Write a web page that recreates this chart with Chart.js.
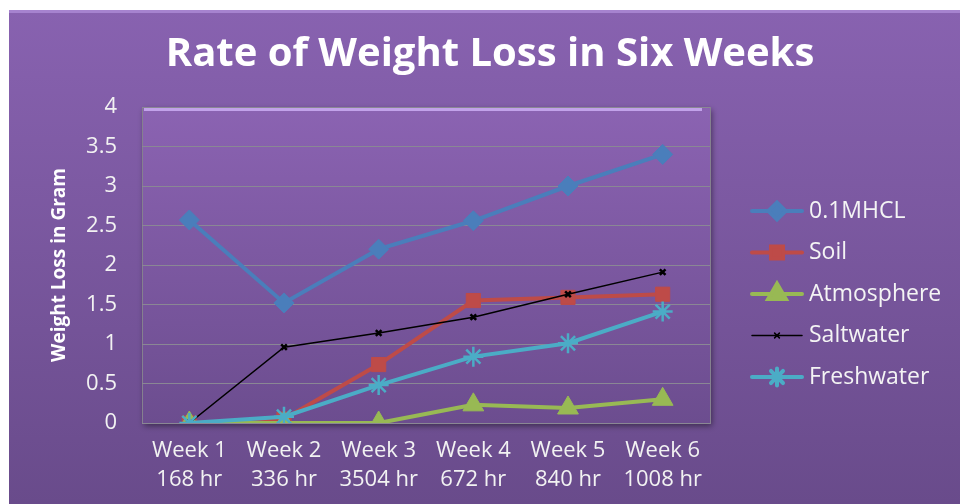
<!DOCTYPE html>
<html>
<head>
<meta charset="utf-8">
<script src="https://cdn.jsdelivr.net/npm/chart.js@4.4.1/dist/chart.umd.min.js"></script>
<style>
  html, body { margin: 0; padding: 0; background: #fff; }
  #wrap { width: 960px; height: 504px; }
</style>
</head>
<body>
<div id="wrap"><canvas id="myChart" width="960" height="504"></canvas></div>
<script>
// data
const weeks = [
    ['Week 1', '168 hr'], ['Week 2', '336 hr'], ['Week 3', '3504 hr'],
    ['Week 4', '672 hr'], ['Week 5', '840 hr'], ['Week 6', '1008 hr']
];
const hclValues = [2.57, 1.52, 2.2, 2.56, 3.0, 3.4];
const soilValues = [0, 0.05, 0.74, 1.55, 1.59, 1.63];
const atmosphereValues = [0, 0, 0, 0.23, 0.19, 0.3];
const saltwaterValues = [0, 0.96, 1.14, 1.34, 1.63, 1.91];
const freshwaterValues = [0, 0.08, 0.48, 0.84, 1.01, 1.41];
const yTicks = [0, 0.5, 1, 1.5, 2, 2.5, 3, 3.5, 4];
const chartTitle = 'Rate of Weight Loss in Six Weeks';

const FONT = '"Open Sans", Lato, sans-serif';

// purple background, plot wall, title and the legend with line + marker
const decorPlugin = {
    id: 'decor',
    beforeDraw(chart) {
        const ctx = chart.ctx;
        const a = chart.chartArea;
        ctx.save();
        ctx.fillStyle = '#ffffff';
        ctx.fillRect(0, 0, chart.width, chart.height);
        let g = ctx.createLinearGradient(0, 10, 0, chart.height);
        g.addColorStop(0, '#8862b0');
        g.addColorStop(1, '#694b8b');
        ctx.fillStyle = g;
        ctx.fillRect(9, 10, chart.width - 9, chart.height - 10);
        ctx.fillStyle = '#a683cf';
        ctx.fillRect(9, 10, chart.width - 9, 3);

        // plot wall
        ctx.shadowColor = 'rgba(0,0,0,0.45)';
        ctx.shadowBlur = 6;
        ctx.shadowOffsetX = 2;
        ctx.shadowOffsetY = 3;
        g = ctx.createLinearGradient(0, a.top, 0, a.bottom);
        g.addColorStop(0, '#8b63b2');
        g.addColorStop(1, '#6c4d8f');
        ctx.fillStyle = g;
        ctx.fillRect(a.left, a.top, a.right - a.left, a.bottom - a.top);
        ctx.shadowColor = 'transparent';
        ctx.fillStyle = '#c2a2ea';
        ctx.fillRect(a.left + 2, a.top + 1, a.right - a.left - 10, 3);
        ctx.strokeStyle = '#85808f';
        ctx.lineWidth = 1;
        ctx.strokeRect(a.left + 0.5, a.top + 0.5, a.right - a.left, a.bottom - a.top);

        // title
        ctx.fillStyle = '#ffffff';
        ctx.font = 'bold 40px ' + FONT;
        ctx.textAlign = 'center';
        ctx.textBaseline = 'middle';
        ctx.fillText(chartTitle, 490, 55);
        ctx.restore();
    },
    afterDraw(chart) {
        const ctx = chart.ctx;
        ctx.save();
        ctx.font = '23px ' + FONT;
        ctx.textBaseline = 'middle';
        chart.data.datasets.forEach((ds, i) => {
            const y = 211 + i * 41.5;
            ctx.strokeStyle = ds.borderColor;
            ctx.fillStyle = ds.borderColor;
            ctx.lineWidth = ds.borderWidth;
            ctx.lineCap = 'round';
            ctx.beginPath();
            ctx.moveTo(752, y);
            ctx.lineTo(802, y);
            ctx.stroke();
            Chart.helpers.drawPoint(ctx, {
                pointStyle: ds.pointStyle,
                radius: ds.pointRadius * 0.85,
                rotation: 0,
                borderWidth: ds.pointBorderWidth
            }, 777, y);
            ctx.fillStyle = '#f4f4f4';
            ctx.fillText(ds.label, 809, y);
        });
        ctx.restore();
    }
};

function series(label, values, color, style, radius, width, order) {
    return {
        label: label,
        data: values,
        borderColor: color,
        backgroundColor: color,
        pointBackgroundColor: color,
        pointBorderColor: color,
        borderWidth: width,
        pointStyle: style,
        pointRadius: radius,
        pointHoverRadius: radius,
        pointBorderWidth: style === 'star' || style === 'crossRot' ? 2.5 : 1,
        tension: 0,
        order: order
    };
}

const ctx = document.getElementById('myChart').getContext('2d');
const myChart = new Chart(ctx, {
    type: 'line',
    data: {
        labels: weeks,
        datasets: [
            series('0.1MHCL', hclValues, '#4a7ebb', 'rectRot', 10, 4, 5),
            series('Soil', soilValues, '#be4b48', 'rect', 10, 4, 4),
            series('Atmosphere', atmosphereValues, '#98b954', 'triangle', 12, 4, 3),
            series('Saltwater', saltwaterValues, '#000000', 'crossRot', 4, 1.5, 2),
            series('Freshwater', freshwaterValues, '#4bacc6', 'star', 10, 4, 1)
        ]
    },
    options: {
        responsive: false,
        animation: false,
        events: [],
        layout: { padding: { left: 0, right: 250, top: 107, bottom: 0 } },
        plugins: {
            legend: { display: false },
            tooltip: { enabled: false },
            title: { display: false }
        },
        scales: {
            x: {
                offset: true,
                grid: { display: false, drawTicks: false },
                border: { display: false },
                afterFit(scale) { scale.height = 81; },
                ticks: {
                    color: '#f2f2f2',
                    padding: 13,
                    maxRotation: 0,
                    autoSkip: false,
                    font: { family: FONT, size: 22, lineHeight: 1.34 }
                }
            },
            y: {
                min: 0,
                max: 4,
                afterBuildTicks(scale) {
                    scale.ticks = yTicks.map(v => ({ value: v }));
                },
                afterFit(scale) { scale.width = 142; },
                grid: { color: '#8a8794', lineWidth: 1, drawTicks: false },
                border: { display: false },
                ticks: {
                    color: '#f2f2f2',
                    padding: 25,
                    font: { family: FONT, size: 22 },
                    callback: v => String(v)
                },
                title: {
                    display: true,
                    text: 'Weight Loss in Gram',
                    color: '#ffffff',
                    font: { family: FONT, size: 19, weight: 'bold', lineHeight: 1.2 },
                    padding: { top: 48, bottom: 0 }
                }
            }
        }
    },
    plugins: [decorPlugin]
});
</script>
</body>
</html>
